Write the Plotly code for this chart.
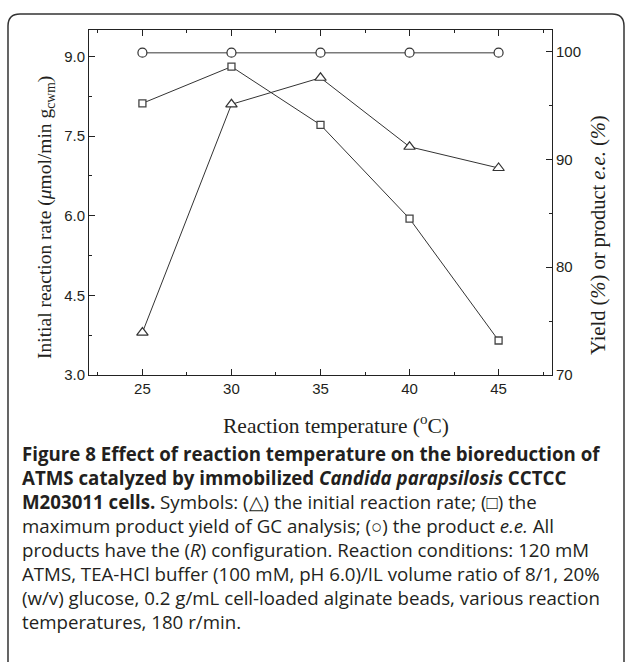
import plotly.graph_objects as go

# ---- data ----
temperature = [25, 30, 35, 40, 45]
initial_rate = [3.8, 8.1, 8.6, 7.3, 6.9]          # left axis, triangles
max_yield = [95.2, 98.6, 93.2, 84.5, 73.2]        # right axis, squares
product_ee = [99.9, 99.9, 99.9, 99.9, 99.9]       # right axis, circles

x_ticks = [25, 30, 35, 40, 45]
y_left_ticks = [3.0, 4.5, 6.0, 7.5, 9.0]
y_right_ticks = [70, 80, 90, 100]

caption_lines = [
    "<b>Figure 8 Effect of reaction temperature on the bioreduction of</b>",
    "<b>ATMS catalyzed by immobilized <i>Candida parapsilosis</i> CCTCC</b>",
    "<b>M203011 cells.</b> Symbols: (△) the initial reaction rate; (□) the",
    "maximum product yield of GC analysis; (○) the product <i>e.e.</i> All",
    "products have the (<i>R</i>) configuration. Reaction conditions: 120 mM",
    "ATMS, TEA-HCl buffer (100 mM, pH 6.0)/IL volume ratio of 8/1, 20%",
    "(w/v) glucose, 0.2 g/mL cell-loaded alginate beads, various reaction",
    "temperatures, 180 r/min.",
]

# ---- geometry (pixels) ----
W, H = 629, 662
L, R, T, B = 89, 552, 30, 375


def px2x(px):
    return (px - L) / (R - L)


def px2y(py):
    return (B - py) / (B - T)


INK = "#231f20"
DARK = "#333333"

fig = go.Figure()

fig.add_trace(go.Scatter(
    x=temperature, y=product_ee, yaxis="y2", mode="lines+markers",
    line=dict(color="#7a7a7a", width=1.5),
    marker=dict(symbol="circle", size=9, color="white",
                line=dict(color=DARK, width=1.2)),
    showlegend=False))

fig.add_trace(go.Scatter(
    x=temperature, y=max_yield, yaxis="y2", mode="lines+markers",
    line=dict(color=DARK, width=1),
    marker=dict(symbol="square", size=7, color="white",
                line=dict(color="#444444", width=1.3)),
    showlegend=False))

fig.add_trace(go.Scatter(
    x=temperature, y=initial_rate, yaxis="y", mode="lines+markers",
    line=dict(color=DARK, width=1),
    marker=dict(symbol="triangle-up", size=10, color="white",
                line=dict(color=DARK, width=1.2)),
    showlegend=False))

tickfont = dict(family="Liberation Sans, Arial, sans-serif", size=15, color=INK)
axis_common = dict(showgrid=False, zeroline=False, showline=True,
                   linecolor="#222222", linewidth=1, ticks="inside",
                   ticklen=6, tickwidth=1, tickcolor="#222222",
                   tickfont=tickfont)

fig.update_layout(
    width=W, height=H, autosize=False,
    margin=dict(l=L, r=W - R, t=T, b=H - B, pad=0),
    paper_bgcolor="white", plot_bgcolor="white",
    xaxis=dict(range=[22, 48], tickvals=x_ticks, mirror="ticks",
               minor=dict(dtick=2.5, tick0=0, ticks="inside", ticklen=3,
                          tickcolor="#222222"),
               **axis_common),
    yaxis=dict(range=[3, 9.5], tickvals=y_left_ticks, tickformat=".1f",
               minor=dict(dtick=0.75, tick0=3, ticks="inside", ticklen=3,
                          tickcolor="#222222"),
               **axis_common),
    yaxis2=dict(range=[70, 102], tickvals=y_right_ticks, overlaying="y",
                side="right",
                minor=dict(dtick=5, tick0=0, ticks="inside", ticklen=3,
                           tickcolor="#222222"),
                **axis_common),
)

serif = "Liberation Serif, Times New Roman, serif"
xtitle_font = dict(family=serif, size=21.5, color=INK)
ytitle_font = dict(family=serif, size=19.5, color=INK)
y2title_font = dict(family=serif, size=20.5, color=INK)

annotations = [
    dict(text="Reaction temperature (<sup>o</sup>C)", x=px2x(336), y=px2y(424),
         xref="paper", yref="paper", showarrow=False, font=xtitle_font,
         xanchor="center", yanchor="middle"),
    dict(text="Initial reaction rate (<i>μ</i>mol/min g<sub>cwm</sub>)",
         x=px2x(46), y=px2y(218), xref="paper", yref="paper",
         showarrow=False, font=ytitle_font, textangle=-90,
         xanchor="center", yanchor="middle"),
    dict(text="Yield (<i>%</i>) or product <i>e.e.</i> (<i>%</i>)",
         x=px2x(598), y=px2y(235), xref="paper", yref="paper",
         showarrow=False, font=y2title_font, textangle=-90,
         xanchor="center", yanchor="middle"),
]

caption_y = [453, 477, 501, 525, 549, 573, 597, 621]
cap_font = dict(family="Open Sans, Noto Sans, sans-serif", size=18.7, color=INK)
for txt, py in zip(caption_lines, caption_y):
    annotations.append(dict(text=txt, x=px2x(20), y=px2y(py), xref="paper",
                            yref="paper", showarrow=False, font=cap_font,
                            xanchor="left", yanchor="middle", align="left"))

fig.update_layout(annotations=annotations)


def P(px, py):
    return f"{px2x(px):.5f},{px2y(py):.5f}"


border = (f"M{P(8, 720)} L{P(8, 26)} Q{P(8, 14)} {P(20, 14)} "
          f"L{P(612, 14)} Q{P(624, 14)} {P(624, 26)} L{P(624, 720)}")
fig.add_shape(type="path", path=border, xref="paper", yref="paper",
              line=dict(color="#333333", width=1.5), layer="below")

fig.write_html("out.html",
               config={"displayModeBar": False},
               post_script="document.body.style.margin='0';"
                           "document.body.style.overflow='hidden';")
